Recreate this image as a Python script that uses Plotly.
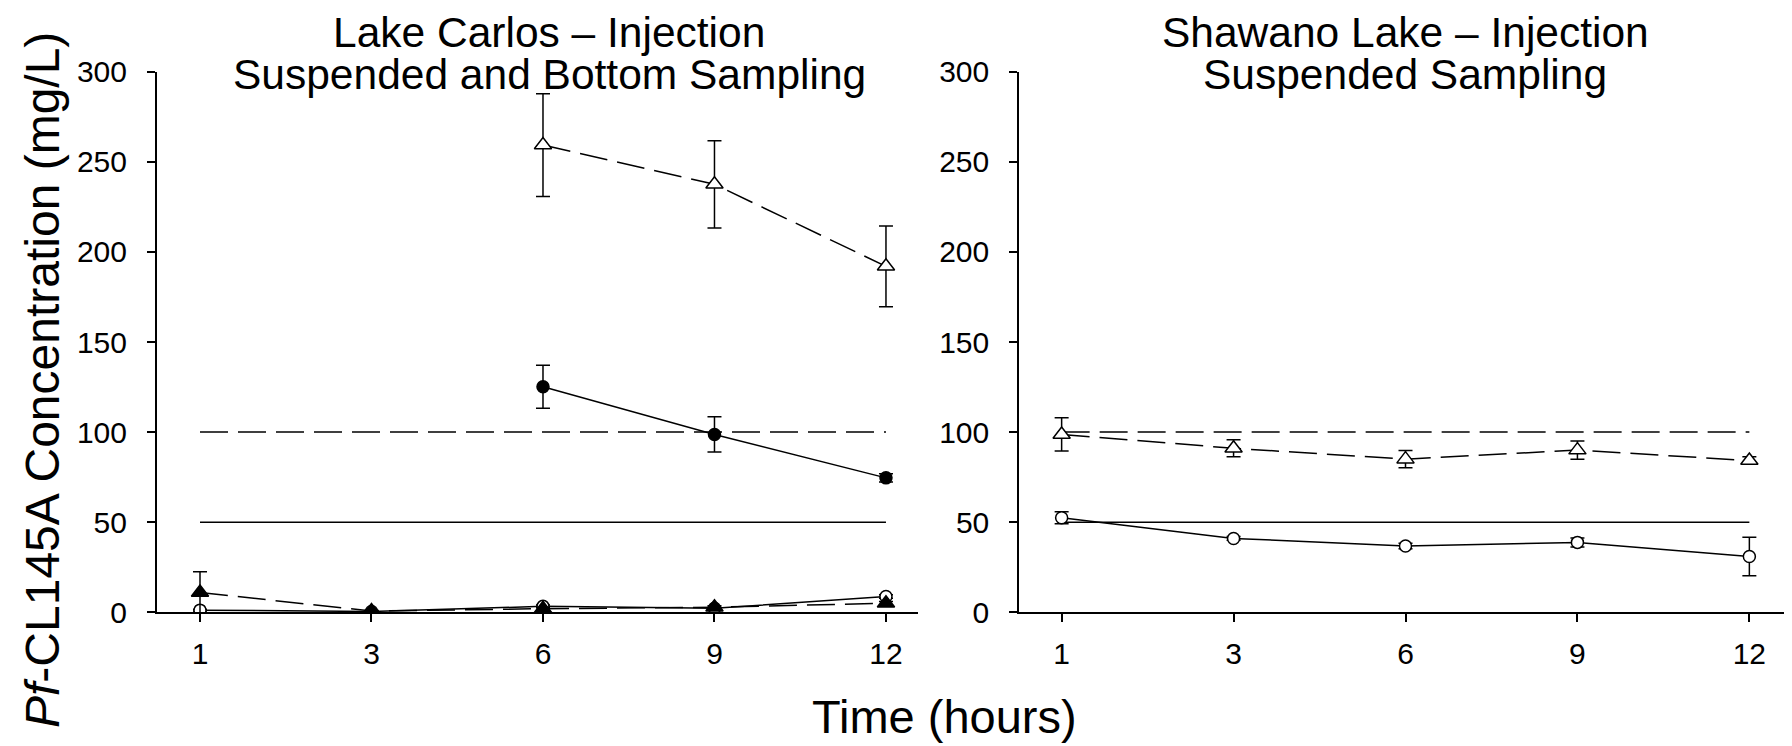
import plotly.graph_objects as go

# page body has an 8px margin: the figure is sized to fit the 1792x746 window
OFF = 8
W, H = 1792 - OFF, 746 - OFF

# ---------------- data ----------------
hours = ["1", "3", "6", "9", "12"]

# Lake Carlos (left panel)
lc_open_tri_x = ["6", "9", "12"]
lc_open_tri = [259.3, 237.5, 192.0]
lc_open_tri_err = [28.5, 24.2, 22.4]

lc_fill_circ_x = ["6", "9", "12"]
lc_fill_circ = [125.2, 98.7, 74.6]
lc_fill_circ_err = [11.9, 9.8, 2.3]

lc_fill_tri = [11.0, 0.7, 2.0, 2.8, 5.0]
lc_fill_tri_err = [11.5, 0.5, 0.8, 0.8, 1.0]

lc_open_circ = [1.2, 0.5, 3.3, 2.2, 8.8]
lc_open_circ_err = [0.5, 0.3, 0.8, 0.6, 1.0]

# Shawano Lake (right panel)
sl_open_tri = [98.7, 91.0, 85.0, 90.0, 84.2]
sl_open_tri_err = [9.2, 4.7, 4.8, 5.0, 2.1]

sl_open_circ = [52.5, 41.0, 36.8, 38.8, 31.0]
sl_open_circ_err = [3.3, 1.0, 1.5, 2.5, 10.7]

# reference levels
ref_dashed = 100
ref_solid = 50

titles_left = ["Lake Carlos \u2013 Injection", "Suspended and Bottom Sampling"]
titles_right = ["Shawano Lake \u2013 Injection", "Suspended Sampling"]
y_title = "<i>Pf</i>-CL145A Concentration (mg/L)"
x_title = "Time (hours)"
y_ticks = [0, 50, 100, 150, 200, 250, 300]

# ---------------- styling ----------------
FONT = "Liberation Sans, Arial, sans-serif"
LW = 1.5
DASH = "28px,10px"


def px_x(p):
    return (p - OFF) / W


def px_y(p):
    return 1 - (p - OFF) / H


fig = go.Figure()


def err(vals):
    return dict(type="data", array=vals, visible=True, color="black",
                thickness=LW, width=7)


def add_ref(xa, ya):
    fig.add_trace(go.Scatter(x=[hours[0], hours[-1]], y=[ref_dashed, ref_dashed],
                             mode="lines", line=dict(color="black", width=LW, dash=DASH),
                             xaxis=xa, yaxis=ya, showlegend=False, hoverinfo="skip"))
    fig.add_trace(go.Scatter(x=[hours[0], hours[-1]], y=[ref_solid, ref_solid],
                             mode="lines", line=dict(color="black", width=LW),
                             xaxis=xa, yaxis=ya, showlegend=False, hoverinfo="skip"))


def add_series(xa, ya, x, y, e, symbol, fill, dash):
    fig.add_trace(go.Scatter(
        x=x, y=y, mode="lines+markers", error_y=err(e),
        line=dict(color="black", width=LW, dash=dash),
        marker=dict(symbol=symbol, size=12 if "circle" in symbol else 15,
                    color=fill, line=dict(color="black", width=1.5)),
        xaxis=xa, yaxis=ya, showlegend=False))


# left panel
add_ref("x", "y")
add_series("x", "y", hours, lc_open_circ, lc_open_circ_err, "circle", "white", "solid")
add_series("x", "y", hours, lc_fill_tri, lc_fill_tri_err, "triangle-up", "black", DASH)
add_series("x", "y", lc_fill_circ_x, lc_fill_circ, lc_fill_circ_err, "circle", "black", "solid")
add_series("x", "y", lc_open_tri_x, lc_open_tri, lc_open_tri_err, "triangle-up", "white", DASH)

# right panel
add_ref("x2", "y2")
add_series("x2", "y2", hours, sl_open_circ, sl_open_circ_err, "circle", "white", "solid")
add_series("x2", "y2", hours, sl_open_tri, sl_open_tri_err, "triangle-up", "white", DASH)

ydom = [px_y(612.3), px_y(71.7)]
common_x = dict(type="category", categoryorder="array", categoryarray=hours,
                showline=True, linecolor="black", linewidth=LW, ticks="outside",
                ticklen=8, tickwidth=LW, tickcolor="black", showgrid=False,
                zeroline=False, tickfont=dict(family=FONT, size=30, color="black"),
                ticklabelstandoff=6, automargin=False)
common_y = dict(range=[0, 300], tickvals=y_ticks, showline=True, linecolor="black",
                linewidth=LW, ticks="outside", ticklen=8, tickwidth=LW,
                tickcolor="black", showgrid=False, zeroline=False,
                tickfont=dict(family=FONT, size=30, color="black"),
                ticklabelstandoff=14, domain=ydom, automargin=False)

fig.update_layout(
    width=W, height=H, margin=dict(l=0, r=0, t=0, b=0, autoexpand=False),
    paper_bgcolor="white", plot_bgcolor="white",
    xaxis=dict(common_x, domain=[px_x(156.7), px_x(917.7)], range=[-0.2525, 4.185], anchor="y"),
    yaxis=dict(common_y, anchor="x"),
    xaxis2=dict(common_x, domain=[px_x(1019), 1.0], range=[-0.248, 4.248], anchor="y2"),
    yaxis2=dict(common_y, anchor="x2"),
)

ann = []
for cx, lines in ((549, titles_left), (1405, titles_right)):
    # first line: box pinned to the top edge of the figure
    ann.append(dict(text=lines[0], x=px_x(cx), y=1.0, xref="paper", yref="paper",
                    xanchor="center", yanchor="top", showarrow=False, borderpad=0,
                    font=dict(family=FONT, size=42.5, color="black")))
    ann.append(dict(text=lines[1], x=px_x(cx), y=px_y(74), xref="paper", yref="paper",
                    xanchor="center", yanchor="middle", showarrow=False,
                    font=dict(family=FONT, size=42.5, color="black")))
ann.append(dict(text=x_title, x=px_x(944.5), y=px_y(716), xref="paper", yref="paper",
                xanchor="center", yanchor="middle", showarrow=False,
                font=dict(family=FONT, size=47, color="black")))
ann.append(dict(text=y_title, x=px_x(42), y=px_y(380), xref="paper", yref="paper",
                xanchor="center", yanchor="middle", showarrow=False, textangle=-90,
                font=dict(family=FONT, size=48, color="black")))
fig.update_layout(annotations=ann)

fig.write_html("out.html")
